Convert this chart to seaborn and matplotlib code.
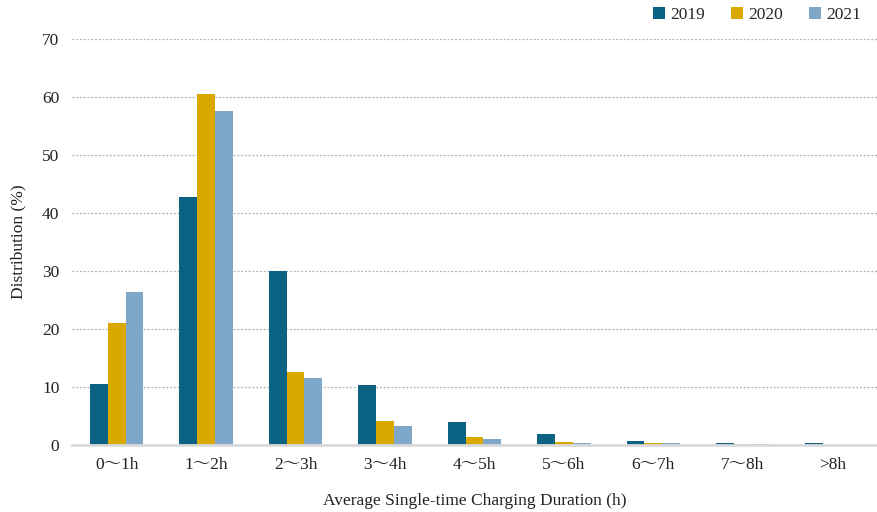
import matplotlib
matplotlib.use("Agg")
import matplotlib.pyplot as plt
import seaborn as sns
import pandas as pd

categories = ["0～1h", "1～2h", "2～3h", "3～4h", "4～5h", "5～6h", "6～7h", "7～8h", ">8h"]
years = ["2019", "2020", "2021"]
share_2019 = [10.5, 42.8, 30.0, 10.3, 3.9, 1.8, 0.6, 0.4, 0.3]
share_2020 = [21.0, 60.5, 12.6, 4.1, 1.4, 0.5, 0.3, 0.1, 0.0]
share_2021 = [26.4, 57.6, 11.5, 3.3, 1.1, 0.4, 0.3, 0.1, 0.0]
colors = ["#0B6283", "#D9A900", "#7FA8C8"]

df = pd.DataFrame({
    "duration": categories * 3,
    "year": [y for y in years for _ in categories],
    "share": share_2019 + share_2020 + share_2021,
})

sns.set_theme(style="white")
fonts = ["Liberation Serif", "Noto Serif CJK JP", "Noto Sans CJK JP", "DejaVu Serif"]
plt.rcParams["font.family"] = fonts

fig = plt.figure(figsize=(8.77, 5.12), dpi=100)
ax = fig.add_axes([0.082, 0.131, 0.918, 0.793])

sns.barplot(data=df, x="duration", y="share", hue="year", order=categories,
            hue_order=years, palette=colors, saturation=1, width=0.6, ax=ax,
            edgecolor="none", linewidth=0, legend=True)

ax.set_ylim(0, 70)
ax.set_yticks(range(0, 71, 10))
ax.set_xlim(-0.5, 8.5)
ax.yaxis.grid(True, linestyle=(0, (1.5, 1.5)), color="#b0b0b0", linewidth=0.9)
ax.set_axisbelow(True)
for side in ["top", "right", "left"]:
    ax.spines[side].set_visible(False)
ax.spines["bottom"].set_color("#d9d9d9")
ax.spines["bottom"].set_linewidth(2)
ax.tick_params(axis="both", length=0, labelsize=12.5, colors="#222222", pad=9)
for lab in ax.get_xticklabels() + ax.get_yticklabels():
    lab.set_family(fonts)

ax.set_xlabel("Average Single-time Charging Duration (h)", fontsize=12.5,
              color="#222222", labelpad=14)
ax.set_ylabel("Distribution (%)", fontsize=12.5, color="#222222", labelpad=11)

leg = ax.legend(loc="upper right", bbox_to_anchor=(1.0, 1.118), ncol=3,
                frameon=False, fontsize=12.5, handlelength=0.7, handleheight=0.7,
                handletextpad=0.3, columnspacing=1.5)

fig.savefig("out.png", dpi=100)
